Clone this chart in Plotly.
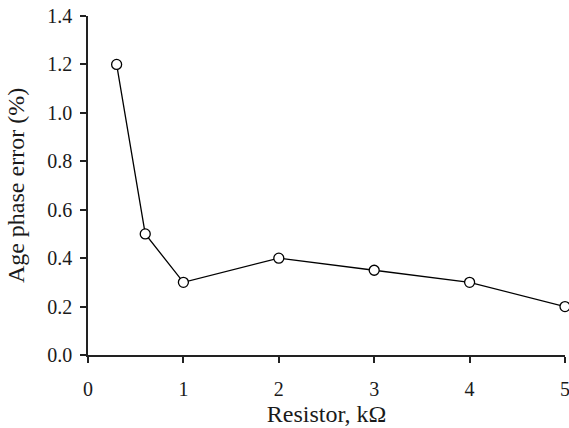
import plotly.graph_objects as go

resistor_kohm = [0.3, 0.6, 1, 2, 3, 4, 5]
phase_error_pct = [1.2, 0.5, 0.3, 0.4, 0.35, 0.3, 0.2]
x_ticks = [0, 1, 2, 3, 4, 5]
y_ticks = [0.0, 0.2, 0.4, 0.6, 0.8, 1.0, 1.2, 1.4]

font_family = "Liberation Serif, Times New Roman, serif"

fig = go.Figure(go.Scatter(
    x=resistor_kohm, y=phase_error_pct,
    mode="lines+markers",
    line=dict(color="black", width=1.3),
    marker=dict(symbol="circle", size=10, color="white",
                line=dict(color="black", width=1.3)),
    cliponaxis=False,
))

fig.update_layout(
    width=569, height=428,
    margin=dict(l=88, r=4, t=16, b=73),
    paper_bgcolor="white", plot_bgcolor="white",
    font=dict(family=font_family, size=20, color="#1a1a1a"),
    showlegend=False,
)
fig.update_xaxes(
    range=[0, 5], tickvals=x_ticks, ticktext=[str(v) for v in x_ticks],
    showgrid=False, zeroline=False,
    showline=True, linecolor="#222", linewidth=1.5,
    ticks="outside", ticklen=6, tickwidth=1.5, tickcolor="#222",
    tickfont=dict(size=20), ticklabeloverflow="allow", ticklabelstandoff=9,
    automargin=False,
    title=dict(text="Resistor, kΩ", font=dict(size=24), standoff=6),
)
fig.update_yaxes(
    range=[0, 1.4], tickvals=y_ticks, ticktext=[f"{v:.1f}" for v in y_ticks],
    showgrid=False, zeroline=False,
    showline=True, linecolor="#222", linewidth=1.5,
    ticks="outside", ticklen=6, tickwidth=1.5, tickcolor="#222",
    tickfont=dict(size=20), ticklabelstandoff=4, automargin=False,
    title=dict(text="Age phase error (%)", font=dict(size=24), standoff=16),
)

fig.write_html("out.html")
